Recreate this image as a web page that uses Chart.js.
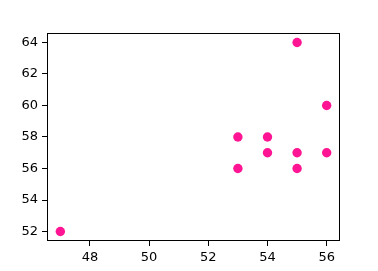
<!DOCTYPE html>
<html>
<head>
<meta charset="utf-8">
<script src="https://cdn.jsdelivr.net/npm/chart.js@4/dist/chart.umd.min.js"></script>
<style>
html,body{margin:0;padding:0;background:#fff;}
#wrap{width:378px;height:271px;position:relative;}
</style>
</head>
<body>
<div id="wrap"><canvas id="c" width="378" height="271"></canvas></div>
<script>
const xValues = [47, 53, 53, 54, 54, 55, 55, 55, 56, 56];
const yValues = [52, 58, 56, 58, 57, 64, 57, 56, 60, 57];
const xTicks = [48, 50, 52, 54, 56];
const yTicks = [52, 54, 56, 58, 60, 62, 64];

const points = xValues.map((x, i) => ({x: x, y: yValues[i]}));

const frame = {
  id: 'frame',
  afterDraw(chart) {
    const a = chart.chartArea, ctx = chart.ctx;
    ctx.save();
    ctx.strokeStyle = '#000';
    ctx.lineWidth = 1;
    ctx.strokeRect(Math.round(a.left) + 0.5, Math.round(a.top) + 0.5,
                   Math.round(a.right - a.left) - 1, Math.round(a.bottom - a.top) - 1);
    ctx.restore();
  }
};

new Chart(document.getElementById('c'), {
  type: 'scatter',
  data: {
    datasets: [{
      data: points,
      backgroundColor: '#ff1493',
      borderWidth: 0,
      pointRadius: 4.7,
      pointHoverRadius: 4.7
    }]
  },
  options: {
    responsive: false,
    animation: false,
    devicePixelRatio: 1,
    layout: {padding: {top: 33, right: 38, left: 0, bottom: 0}},
    plugins: {legend: {display: false}, tooltip: {enabled: false}},
    scales: {
      x: {
        type: 'linear',
        min: 46.55, max: 56.45,
        afterBuildTicks(s) { s.ticks = xTicks.map(v => ({value: v})); },
        afterFit(s) { s.height = 30; },
        grid: {drawOnChartArea: false, drawTicks: true, tickLength: 5, color: '#000', tickWidth: 1},
        border: {display: false},
        ticks: {color: '#000', padding: 4, font: {family: 'DejaVu Sans', size: 13}, maxRotation: 0}
      },
      y: {
        type: 'linear',
        min: 51.4, max: 64.6,
        afterBuildTicks(s) { s.ticks = yTicks.map(v => ({value: v})); },
        afterFit(s) { s.width = 47; },
        grid: {drawOnChartArea: false, drawTicks: true, tickLength: 5, color: '#000', tickWidth: 1},
        border: {display: false},
        ticks: {color: '#000', padding: 4, font: {family: 'DejaVu Sans', size: 13}}
      }
    }
  },
  plugins: [frame]
});
</script>
</body>
</html>
